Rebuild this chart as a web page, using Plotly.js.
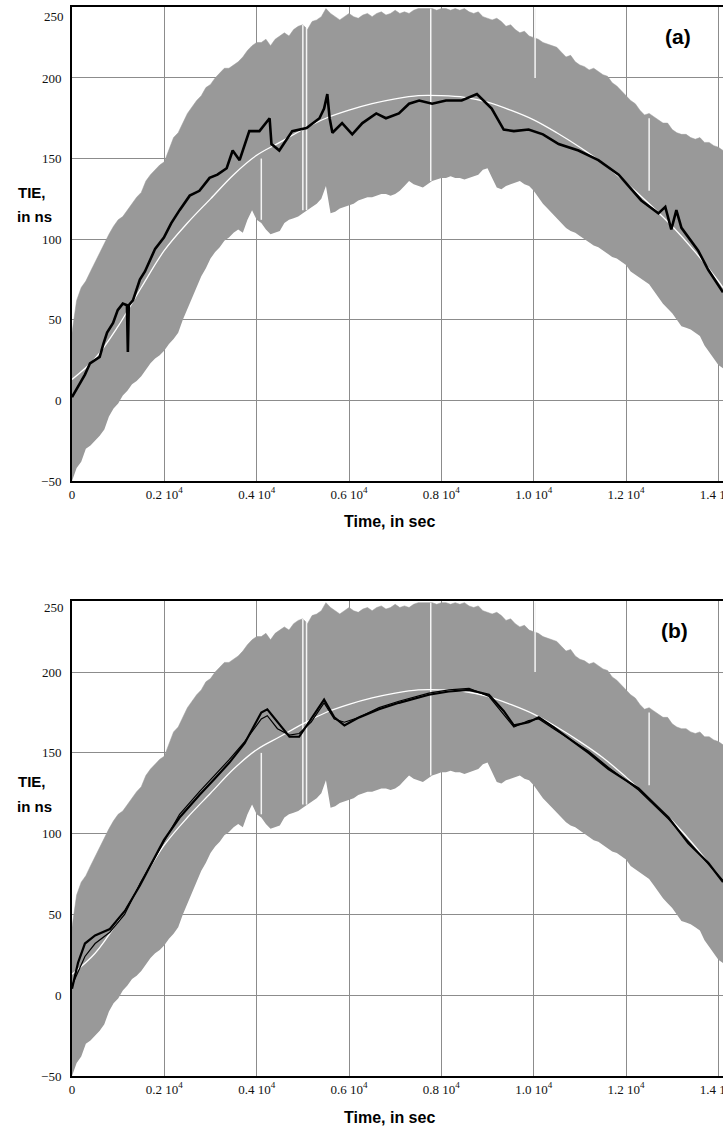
<!DOCTYPE html>
<html>
<head>
<meta charset="utf-8">
<script src="https://cdn.plot.ly/plotly-3.0.1.min.js"></script>
<style>html,body{margin:0;padding:0;background:#fff;}#chart{width:723px;height:1132px;}</style>
</head>
<body>
<div id="chart"></div>
<script>
// ---- tick labels ----
const xTickVals = [0, 0.2, 0.4, 0.6, 0.8, 1.0, 1.2, 1.4];
const xTickText = ["0", "0.2 10<sup>4</sup>", "0.4 10<sup>4</sup>", "0.6 10<sup>4</sup>", "0.8 10<sup>4</sup>", "1.0 10<sup>4</sup>", "1.2 10<sup>4</sup>", "1.4 10<sup>4</sup>"];
const yTickVals = [-50, 0, 50, 100, 150, 200];

// ---- gray band (measured TIE spread), sampled every 0.01 ----
const bandTime = [0,0.01,0.02,0.03,0.04,0.05,0.06,0.07,0.08,0.09,
0.10,0.11,0.12,0.13,0.14,0.15,0.16,0.17,0.18,0.19,
0.20,0.21,0.22,0.23,0.24,0.25,0.26,0.27,0.28,0.29,
0.30,0.31,0.32,0.33,0.34,0.35,0.36,0.37,0.38,0.39,
0.40,0.41,0.42,0.43,0.44,0.45,0.46,0.47,0.48,0.49,
0.50,0.51,0.52,0.53,0.54,0.55,0.56,0.57,0.58,0.59,
0.60,0.61,0.62,0.63,0.64,0.65,0.66,0.67,0.68,0.69,
0.70,0.71,0.72,0.73,0.74,0.75,0.76,0.77,0.78,0.79,
0.80,0.81,0.82,0.83,0.84,0.85,0.86,0.87,0.88,0.89,
0.90,0.91,0.92,0.93,0.94,0.95,0.96,0.97,0.98,0.99,
1.00,1.01,1.02,1.03,1.04,1.05,1.06,1.07,1.08,1.09,
1.10,1.11,1.12,1.13,1.14,1.15,1.16,1.17,1.18,1.19,
1.20,1.21,1.22,1.23,1.24,1.25,1.26,1.27,1.28,1.29,
1.30,1.31,1.32,1.33,1.34,1.35,1.36,1.37,1.38,1.39,
1.40,1.41];
const bandUpper = [42,62,70,74,80,86,92,98,103,108,
112,114,118,122,126,129,136,140,143,146,
148,156,163,166,172,178,182,186,189,194,
196,200,203,206,206,208,210,213,217,220,
222,222,224,220,224,226,228,226,230,232,
233,230,235,236,238,243,240,238,236,238,
240,238,237,239,240,238,240,241,239,240,
242,240,241,240,242,243,243,243,243,242,
243,243,242,243,242,243,241,240,241,238,
237,236,237,235,232,233,230,228,229,226,
225,224,222,221,220,219,216,213,214,210,
208,207,205,206,204,202,201,197,195,192,
189,186,184,180,177,178,176,174,172,172,
168,166,165,165,163,162,163,160,160,158,
157,155];
const bandLower = [-50,-42,-38,-30,-28,-25,-22,-18,-10,-5,
-2,3,6,10,12,15,19,23,26,28,
31,35,38,42,50,57,63,70,77,82,
88,92,95,99,101,104,106,104,112,118,
112,110,106,103,104,105,110,112,113,114,
116,118,120,122,125,133,116,117,119,120,
121,122,124,125,126,126,127,128,128,127,
128,130,133,136,134,133,132,134,136,137,
138,138,139,138,138,137,138,139,140,143,
144,138,132,131,133,134,135,136,134,133,
130,126,122,119,116,113,110,107,105,104,
102,100,98,96,95,93,91,89,88,86,
84,80,78,76,74,72,68,64,60,57,
54,50,46,45,44,42,40,34,30,26,
22,20];

// ---- white gaps in the band ----
const gapTime = [0.41, 0.50, 0.508, 0.777, 1.003, 1.25];
const gapLow  = [112, 118, 118, 136, 200, 130];
const gapHigh = [150, 233, 231, 243, 243, 175];

// ---- white smooth fit ----
const fitTime  = [0,0.05,0.1,0.15,0.2,0.25,0.3,0.35,0.4,0.45,0.5,0.55,0.6,0.65,0.7,0.75,0.8,0.85,0.9,0.95,1.0,1.05,1.1,1.15,1.2,1.25,1.3,1.35,1.4,1.41];
const fitValue = [13,26,46,70,93,110,125,140,152,160,168,175,180,184,187,189,189,188,185,180,174,166,157,147,135,122,108,92,74,70];

// ---- (a) black estimate ----
const aTime = [0,0.017,0.028,0.039,0.05,0.06,0.068,0.076,0.089,0.099,0.11,0.119,0.121,0.123,0.132,0.147,0.158,0.168,0.18,0.199,0.215,0.233,0.255,0.276,0.298,0.315,0.335,0.348,0.363,0.384,0.406,0.428,0.432,0.449,0.477,0.508,0.536,0.546,0.553,0.558,0.564,0.585,0.607,0.629,0.659,0.680,0.708,0.730,0.752,0.780,0.810,0.844,0.877,0.909,0.935,0.957,0.989,1.02,1.054,1.097,1.14,1.184,1.233,1.27,1.285,1.298,1.309,1.320,1.335,1.356,1.378,1.41];
const aValue = [2,11,16,23,25,27,35,42,48,56,60,59,30,59,62,75,80,86,94,101,110,118,127,130,138,140,144,155,149,167,167,175,159,155,167,169,175,181,190,175,166,172,165,172,178,175,178,184,186,184,186,186,190,181,168,167,168,165,159,155,149,140,124,116,120,106,118,107,101,93,81,67];

// ---- (b) black estimates ----
const bTime = [0,0.013,0.028,0.05,0.082,0.114,0.147,0.199,0.233,0.276,0.309,0.341,0.374,0.395,0.41,0.423,0.445,0.471,0.492,0.518,0.546,0.568,0.59,0.622,0.665,0.708,0.773,0.816,0.86,0.903,0.935,0.957,0.989,1.011,1.043,1.076,1.119,1.162,1.227,1.292,1.335,1.378,1.41];
const bThick = [4,20,32,37,41,52,68,96,110,124,134,144,156,167,175,177,169,160,160,171,183,172,167,172,177,181,186,188,189,186,176,167,169,172,166,159,150,140,128,110,94,82,70];
const bThin  = [6,14,24,32,39,50,69,95,112,126,136,146,157,165,171,173,165,161,162,169,181,171,169,172,178,182,187,189,190,185,174,166,170,171,165,159,151,141,127,109,95,81,71];

// ---- build traces ----
function gapXY() {
  const x = [], y = [];
  for (let i = 0; i < gapTime.length; i++) {
    x.push(gapTime[i], gapTime[i], null);
    y.push(gapLow[i], gapHigh[i], null);
  }
  return {x, y};
}
const GRAY = '#999999';
function panel(xa, ya, blacks) {
  const g = gapXY();
  const t = [
    {x: bandTime, y: bandLower, xaxis: xa, yaxis: ya, type: 'scatter', mode: 'lines', line: {width: 0, color: GRAY}, hoverinfo: 'skip'},
    {x: bandTime, y: bandUpper, xaxis: xa, yaxis: ya, type: 'scatter', mode: 'lines', fill: 'tonexty', fillcolor: GRAY, line: {width: 0.5, color: GRAY}, hoverinfo: 'skip'},
    {x: g.x, y: g.y, xaxis: xa, yaxis: ya, type: 'scatter', mode: 'lines', line: {width: 1.5, color: '#f4f4f4'}, connectgaps: false, hoverinfo: 'skip'},
    {x: fitTime, y: fitValue, xaxis: xa, yaxis: ya, type: 'scatter', mode: 'lines', line: {width: 1.3, color: '#ffffff', shape: 'spline'}}
  ];
  blacks.forEach(b => t.push({x: b.x, y: b.y, xaxis: xa, yaxis: ya, type: 'scatter', mode: 'lines', line: {width: b.w, color: '#000'}}));
  return t;
}
const data = [].concat(
  panel('x', 'y', [{x: aTime, y: aValue, w: 2.6}]),
  panel('x2', 'y2', [{x: bTime, y: bThin, w: 1.2}, {x: bTime, y: bThick, w: 2.2}])
);

const tickFont = {family: 'Liberation Serif, Times New Roman, serif', size: 13, color: '#111'};
function xAxis(anchor) {
  return {anchor: anchor, domain: [0, 1], range: [0, 1.41], tickvals: xTickVals, ticktext: xTickText,
    showgrid: true, gridcolor: '#8c8c8c', gridwidth: 1, zeroline: false, ticklabeloverflow: 'allow',
    showline: true, linecolor: '#000', linewidth: 2, mirror: true, ticks: '', tickfont: tickFont, fixedrange: true};
}
function yAxis(anchor, dom) {
  return {anchor: anchor, domain: dom, range: [-50, 244], tickvals: yTickVals,
    showgrid: true, gridcolor: '#8c8c8c', gridwidth: 1, zeroline: false,
    showline: true, linecolor: '#000', linewidth: 2, mirror: 'ticks', ticks: '', tickfont: tickFont, ticklabelstandoff: 6, fixedrange: true};
}
const boldSans = {family: 'Liberation Sans, Arial, sans-serif', size: 15, color: '#000'};
const titleFont = {family: 'Liberation Sans Narrow, Liberation Sans, Arial, sans-serif', size: 16, color: '#000'};
const annotations = [
  {text: '<b>Time, in sec</b>', xref: 'paper', yref: 'paper', x: 0.487, y: 0.5566, yshift: -41, xanchor: 'center', yanchor: 'middle', showarrow: false, font: titleFont},
  {text: '<b>Time, in sec</b>', xref: 'paper', yref: 'paper', x: 0.487, y: 0, yshift: -41, xanchor: 'center', yanchor: 'middle', showarrow: false, font: titleFont},
  {text: '<b>TIE,</b>', xref: 'paper', yref: 'y', x: 0, xshift: -40, y: 129, xanchor: 'center', yanchor: 'middle', showarrow: false, font: boldSans},
  {text: '<b>in ns</b>', xref: 'paper', yref: 'y', x: 0, xshift: -38, y: 114, xanchor: 'center', yanchor: 'middle', showarrow: false, font: boldSans},
  {text: '<b>TIE,</b>', xref: 'paper', yref: 'y2', x: 0, xshift: -40, y: 132, xanchor: 'center', yanchor: 'middle', showarrow: false, font: boldSans},
  {text: '<b>in ns</b>', xref: 'paper', yref: 'y2', x: 0, xshift: -38, y: 117, xanchor: 'center', yanchor: 'middle', showarrow: false, font: boldSans},
  {text: '250', xref: 'paper', yref: 'y', x: 0, xshift: -6, y: 238, xanchor: 'right', yanchor: 'middle', showarrow: false, font: tickFont},
  {text: '250', xref: 'paper', yref: 'y2', x: 0, xshift: -6, y: 240, xanchor: 'right', yanchor: 'middle', showarrow: false, font: tickFont},
  {text: '<b>(a)</b>', xref: 'x', yref: 'y', x: 1.313, y: 226, xanchor: 'center', yanchor: 'middle', showarrow: false, font: {family: 'Liberation Sans, Arial, sans-serif', size: 21, color: '#000'}},
  {text: '<b>(b)</b>', xref: 'x2', yref: 'y2', x: 1.305, y: 226, xanchor: 'center', yanchor: 'middle', showarrow: false, font: {family: 'Liberation Sans, Arial, sans-serif', size: 21, color: '#000'}}
];
const layout = {
  width: 723, height: 1132,
  margin: {l: 72, r: 0, t: 7, b: 56, pad: 0},
  paper_bgcolor: '#fff', plot_bgcolor: '#fff',
  showlegend: false,
  font: tickFont,
  xaxis: xAxis('y'),
  yaxis: yAxis('x', [0.5566, 1]),
  xaxis2: xAxis('y2'),
  yaxis2: yAxis('x2', [0, 0.4443]),
  annotations: annotations
};
Plotly.newPlot('chart', data, layout, {staticPlot: true, displayModeBar: false});
</script>
</body>
</html>
